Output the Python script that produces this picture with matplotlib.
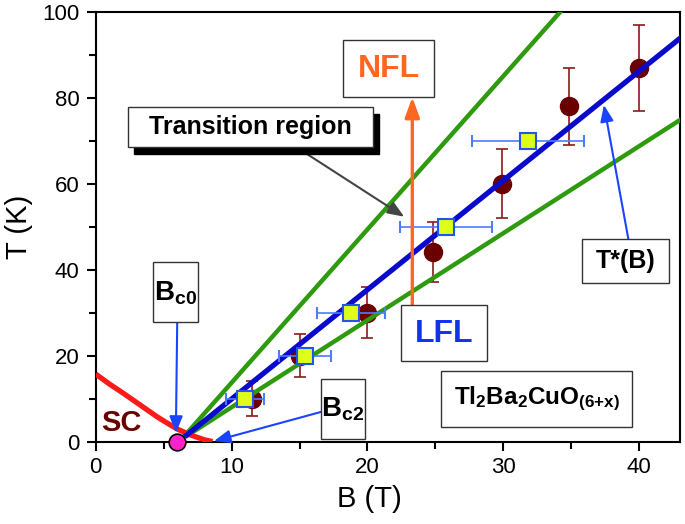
import matplotlib
matplotlib.use("Agg")
import matplotlib.pyplot as plt
from matplotlib.patches import Rectangle
from matplotlib.ticker import MultipleLocator

plt.rcParams["font.family"] = ["Liberation Sans", "DejaVu Sans"]
plt.rcParams["mathtext.fontset"] = "custom"
plt.rcParams["mathtext.rm"] = "Liberation Sans"
plt.rcParams["mathtext.bf"] = "Liberation Sans:bold"

# circles with vertical error bars
b_circ = [11.5, 15.0, 20.0, 24.8, 29.9, 34.8, 40.0]
t_circ = [10.0, 20.0, 30.0, 44.0, 60.0, 78.0, 87.0]
t_circ_err = [4.0, 5.0, 6.0, 7.0, 8.0, 9.0, 10.0]

# squares with horizontal error bars
b_sq = [11.0, 15.4, 18.8, 25.8, 31.8]
t_sq = [10.0, 20.0, 30.0, 50.0, 70.0]
b_sq_err = [1.4, 1.9, 2.5, 3.4, 4.1]

# fitted straight lines (end points read from the frame)
b_tstar = [6.7, 43.0]
t_tstar = [1.5, 93.8]
b_upper = [6.5, 34.2]
t_upper = [1.2, 100.0]
b_lower = [6.8, 43.0]
t_lower = [1.5, 74.8]

# superconducting boundary
b_sc = [0.0, 1.0, 2.0, 3.0, 4.0, 4.5, 5.0, 6.0, 7.0, 8.0, 8.6]
t_sc = [15.7, 13.4, 11.3, 9.1, 6.9, 5.8, 4.8, 2.9, 1.5, 0.4, 0.0]

b_c0 = 6.0

fig = plt.figure(figsize=(6.85, 5.24), dpi=100)
ax = fig.add_axes([0.1397, 0.1574, 0.853, 0.8203])

ax.errorbar(b_circ, t_circ, yerr=t_circ_err, fmt="o", ms=13, color="#6B0000",
            ecolor="#8B1A1A", elinewidth=1.2, capsize=4, capthick=1.2, zorder=3)
ax.plot(b_upper, t_upper, color="#2E9A0E", lw=3.2, zorder=4)
ax.plot(b_lower, t_lower, color="#2E9A0E", lw=3.2, zorder=4)
ax.plot(b_tstar, t_tstar, color="#0A0ACC", lw=3.8, zorder=5)
ax.errorbar(b_sq, t_sq, xerr=b_sq_err, fmt="s", ms=11, mfc="#DDFF1A",
            mec="#2255EE", mew=1.5, ecolor="#4D7CFF", elinewidth=1.2,
            capsize=4, capthick=1.2, zorder=6)
ax.plot(b_sc, t_sc, color="#FF1A1A", lw=3.8, zorder=4, solid_capstyle="butt")
ax.plot([b_c0], [0], "o", ms=12, mfc="#FF22CC", mec="black", mew=1.2,
        clip_on=False, zorder=10)

ax.set_xlim(0, 43)
ax.set_ylim(0, 100)
ax.xaxis.set_major_locator(MultipleLocator(10))
ax.xaxis.set_minor_locator(MultipleLocator(5))
ax.yaxis.set_major_locator(MultipleLocator(20))
ax.yaxis.set_minor_locator(MultipleLocator(10))
ax.tick_params(which="both", direction="out", width=1.5, labelsize=16,
               top=False, right=False)
ax.tick_params(which="major", length=6.5, pad=5)
ax.tick_params(which="minor", length=4.8)
for s in ax.spines.values():
    s.set_linewidth(1.5)

ax.set_xlabel("B (T)", fontsize=21)
ax.set_ylabel("T (K)", fontsize=21)
ax.xaxis.set_label_coords(0.469, -0.1)
ax.yaxis.set_label_coords(-0.108, 0.5)


def box(x0, y0, x1, y1, shadow=False):
    if shadow:
        ax.add_patch(Rectangle((x0 + 0.45, y0 - 1.5), x1 - x0, y1 - y0,
                               facecolor="black", edgecolor="black", zorder=11))
    ax.add_patch(Rectangle((x0, y0), x1 - x0, y1 - y0, facecolor="white",
                           edgecolor="#333333", lw=1.0, zorder=12))


box(18.2, 80.1, 24.9, 93.4)
ax.text(21.55, 86.6, "NFL", fontsize=23, fontweight="bold", color="#FF6620",
        ha="center", va="center", zorder=13)

box(2.35, 68.5, 20.4, 77.8, shadow=True)
ax.text(11.4, 73.1, "Transition region", fontsize=18, fontweight="bold",
        ha="center", va="center", zorder=13)

box(35.8, 36.8, 42.2, 47.1)
ax.text(39.0, 41.9, "T*(B)", fontsize=18, fontweight="bold",
        ha="center", va="center", zorder=13)

box(4.25, 27.8, 7.5, 41.7)
ax.text(5.9, 34.6, r"$\mathbf{B_{c0}}$", fontsize=20,
        ha="center", va="center", zorder=13)

box(16.6, 0.6, 19.8, 14.5)
ax.text(18.2, 7.4, r"$\mathbf{B_{c2}}$", fontsize=20,
        ha="center", va="center", zorder=13)

box(22.5, 18.7, 28.8, 31.7)
ax.text(25.65, 25.0, "LFL", fontsize=23, fontweight="bold", color="#1133EE",
        ha="center", va="center", zorder=13)

box(25.4, 3.4, 39.5, 16.4)
ax.text(32.45, 10.0, r"$\mathbf{Tl_2Ba_2CuO_{(6{+}x)}}$", fontsize=17.5,
        ha="center", va="center", zorder=13)

ax.text(1.9, 4.2, "SC", fontsize=21, fontweight="bold", color="#6B0000",
        ha="center", va="center", zorder=7)

ax.annotate("", xy=(23.3, 80.1), xytext=(23.3, 31.7),
            arrowprops=dict(arrowstyle="-|>,head_length=0.6,head_width=0.22",
                            mutation_scale=20, color="#FF6620", lw=2.4,
                            shrinkA=0, shrinkB=0), zorder=8)
ax.annotate("", xy=(22.7, 52.3), xytext=(15.3, 67.4),
            arrowprops=dict(arrowstyle="-|>,head_length=0.5,head_width=0.2",
                            mutation_scale=20, color="#444444", lw=1.5,
                            shrinkA=0, shrinkB=0), zorder=8)
blue_arrow = dict(arrowstyle="-|>,head_length=0.5,head_width=0.2",
                  mutation_scale=20, color="#1A44FF", lw=1.5,
                  shrinkA=0, shrinkB=0)
ax.annotate("", xy=(37.4, 78.3), xytext=(39.2, 47.1), arrowprops=blue_arrow,
            zorder=8)
ax.annotate("", xy=(5.9, 2.0), xytext=(6.0, 27.8), arrowprops=blue_arrow,
            zorder=8)
ax.annotate("", xy=(8.7, 0.1), xytext=(16.6, 6.9), arrowprops=blue_arrow,
            zorder=8)

fig.savefig("out.png", dpi=100)
